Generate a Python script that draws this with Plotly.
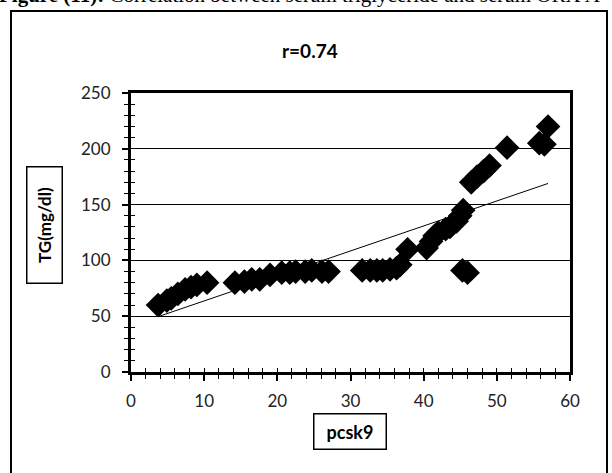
import numpy as np
import plotly.graph_objects as go

# ---- data ----
pcsk9 = [3.7, 4.9, 5.5, 6.4, 7.4, 8.2, 9.0, 10.4,
         14.2, 15.5, 16.5, 17.6, 19.0, 20.6,
         21.7, 22.5, 23.8, 24.7, 26.1, 27.0,
         31.6, 32.7, 33.6, 34.4, 35.4, 36.3, 36.8, 37.8,
         40.4, 41.0, 41.5, 42.0, 43.0, 43.6, 44.5, 45.0, 45.4,
         45.3, 46.0,
         46.5, 47.3, 48.2, 49.0, 51.4, 55.8, 56.5, 57.0]
tg = [60, 64, 66, 70, 74, 76, 78, 80,
      80, 81, 83, 83, 87, 89,
      89, 90, 90, 91, 90, 90,
      91, 91, 91, 91, 92, 93, 96, 110,
      111, 117, 122, 125, 128, 130, 135, 140, 145,
      91, 89,
      170, 175, 180, 185, 201, 205, 204, 220]

title_text = "r=0.74"
x_title = "pcsk9"
y_title = "TG(mg/dl)"
caption = "<b>Figure (11):</b> Correlation between serum triglyceride and serum ORX A"

x_range = [0, 60]
y_range = [0, 250]

# linear trendline from the data
coef = np.polyfit(pcsk9, tg, 1)
trend_x = np.array([min(pcsk9), max(pcsk9)])
trend_y = np.polyval(coef, trend_x)

font_family = "Lato, 'Open Sans', sans-serif"

fig = go.Figure()
fig.add_trace(go.Scatter(
    x=trend_x, y=trend_y, mode="lines",
    line=dict(color="black", width=1), showlegend=False, hoverinfo="skip"))
fig.add_trace(go.Scatter(
    x=pcsk9, y=tg, mode="markers",
    marker=dict(symbol="diamond", size=19, color="black", line=dict(width=0)),
    showlegend=False))
# invisible trace to create overlay axes carrying the inner tick halves
fig.add_trace(go.Scatter(x=[None], y=[None], xaxis="x2", yaxis="y2",
                         mode="markers", showlegend=False, hoverinfo="skip"))

W, H = 612, 473
ml, mr, mt, mb = 131, 42, 93, 101
pw, ph = W - ml - mr, H - mt - mb

def px_to_paper_x(p):
    return (p - ml) / pw

def px_to_paper_y(p):
    return (H - mb - p) / ph

tickfont = dict(family=font_family, size=17, color="#222")

fig.update_layout(
    width=W, height=H,
    margin=dict(l=ml, r=mr, t=mt, b=mb),
    paper_bgcolor="white", plot_bgcolor="white",
    xaxis=dict(range=x_range, dtick=10, tick0=0, showgrid=False, zeroline=False,
               showline=True, linecolor="black", linewidth=3, mirror=True,
               ticks="outside", ticklen=6, tickwidth=2, tickcolor="black",
               minor=dict(dtick=2, ticks="outside", ticklen=4, tickwidth=1, tickcolor="black"),
               tickfont=tickfont, ticklabelstandoff=6),
    yaxis=dict(range=y_range, dtick=50, tick0=0, showgrid=True, gridcolor="black",
               gridwidth=1, zeroline=False,
               showline=True, linecolor="black", linewidth=3, mirror=True,
               ticks="outside", ticklen=6, tickwidth=2, tickcolor="black",
               minor=dict(dtick=10, ticks="outside", ticklen=4, tickwidth=1, tickcolor="black"),
               tickfont=tickfont, ticklabelstandoff=8),
    xaxis2=dict(range=x_range, overlaying="x", matches="x", showgrid=False, zeroline=False,
                showticklabels=False, ticks="inside", ticklen=4, tickwidth=1, tickcolor="black",
                dtick=2, tick0=0, side="bottom", anchor="y2"),
    yaxis2=dict(range=y_range, overlaying="y", matches="y", showgrid=False, zeroline=False,
                showticklabels=False, ticks="inside", ticklen=4, tickwidth=1, tickcolor="black",
                dtick=10, tick0=0, side="left", anchor="x2"),
    shapes=[dict(type="rect", xref="paper", yref="paper",
                 x0=px_to_paper_x(11), x1=px_to_paper_x(607),
                 y0=px_to_paper_y(490), y1=px_to_paper_y(11),
                 line=dict(color="black", width=2), layer="below")],
    annotations=[
        dict(text=f"<b>{title_text}</b>", xref="paper", yref="paper",
             x=px_to_paper_x(310), y=px_to_paper_y(50), xanchor="center", yanchor="middle",
             showarrow=False, font=dict(family=font_family, size=19, color="black")),
        dict(text=f"<b>{x_title}</b>", xref="paper", yref="paper",
             x=px_to_paper_x(350), y=px_to_paper_y(431), xanchor="center", yanchor="middle",
             showarrow=False, font=dict(family=font_family, size=18, color="black"),
             bordercolor="black", borderwidth=1.5, borderpad=1, width=69, height=32),
        dict(text=f"<b>{y_title}</b>", xref="paper", yref="paper",
             x=px_to_paper_x(44), y=px_to_paper_y(225), xanchor="center", yanchor="middle",
             showarrow=False, textangle=-90, font=dict(family=font_family, size=17, color="black"),
             bordercolor="black", borderwidth=1.5, borderpad=1, width=113, height=32),
        dict(text=caption, xref="paper", yref="paper",
             x=px_to_paper_x(-3), y=px_to_paper_y(9), xanchor="left", yanchor="bottom",
             showarrow=False, font=dict(family="'Liberation Serif', serif", size=21, color="black")),
    ],
)

fig.write_html("out.html")
